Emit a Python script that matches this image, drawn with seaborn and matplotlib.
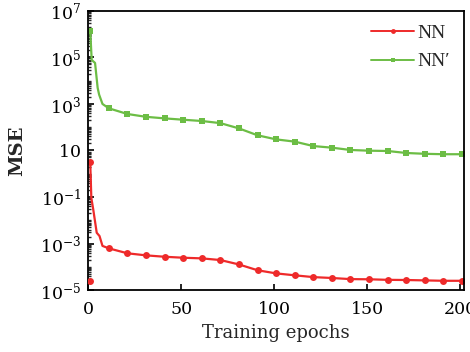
import numpy as np
import pandas as pd
import matplotlib
matplotlib.use("Agg")
import matplotlib.pyplot as plt
import matplotlib.ticker as mticker
import seaborn as sns

# Training curves (MSE per epoch)
epochs_nn = [1, 1.6, 2.6, 4.5, 6, 7.6, 11, 21, 31, 41, 51, 61, 71, 81, 91, 101,
             111, 121, 131, 141, 151, 161, 171, 181, 191, 201]
mse_nn = [3.2, 0.091, 0.030, 2.9e-3, 2.1e-3, 7.9e-4, 6.2e-4, 3.8e-4, 3.1e-4, 2.7e-4,
          2.45e-4, 2.3e-4, 1.95e-4, 1.26e-4, 7.1e-5, 5.2e-5, 4.3e-5, 3.6e-5, 3.3e-5,
          2.95e-5, 2.9e-5, 2.75e-5, 2.7e-5, 2.6e-5, 2.5e-5, 2.5e-5]
nn_start_epoch = [1]
nn_start_mse = [2.45e-5]

epochs_nnp = [1, 1.8, 3.6, 5, 5.8, 7.6, 11, 21, 31, 41, 51, 61, 71, 81, 91, 101,
              111, 121, 131, 141, 151, 161, 171, 181, 191, 201]
mse_nnp = [1.38e6, 7.8e4, 5.8e4, 4.9e3, 2.5e3, 1.0e3, 650, 370, 280, 240, 210, 185,
           150, 89, 45, 30, 24, 15.5, 13.2, 10.5, 9.8, 9.5, 7.8, 7.2, 6.9, 6.9]

series_names = ["NN", "NN\u2032"]
ytick_exps = [-5, -3, -1, 1, 3, 5, 7]
ytick_labels = ["$10^{-5}$", "$10^{-3}$", "$10^{-1}$", "$10$", "$10^{3}$", "$10^{5}$", "$10^{7}$"]
xticks = [0, 50, 100, 150, 200]

RED = "#ee2a2a"
GREEN = "#6cbd45"

sns.set_style("ticks")
plt.rcParams["font.family"] = ["DejaVu Serif"]
plt.rcParams["mathtext.fontset"] = "dejavuserif"

fig = plt.figure(figsize=(4.7, 3.52), dpi=100)
ax = fig.add_axes([0.188, 0.176, 0.799, 0.793])

df_nn = pd.DataFrame({"epoch": epochs_nn, "mse": mse_nn})
df_nnp = pd.DataFrame({"epoch": epochs_nnp, "mse": mse_nnp})

mark_nn = [0] + list(range(6, len(epochs_nn)))
mark_nnp = [0] + list(range(6, len(epochs_nnp)))

sns.lineplot(data=df_nn, x="epoch", y="mse", ax=ax, color=RED, lw=1.6,
             marker="o", markersize=5, markeredgewidth=0, markevery=mark_nn,
             label=series_names[0])
sns.lineplot(data=df_nnp, x="epoch", y="mse", ax=ax, color=GREEN, lw=1.6,
             marker="s", markersize=4.5, markeredgewidth=0, markevery=mark_nnp,
             label=series_names[1])
sns.scatterplot(x=nn_start_epoch, y=nn_start_mse, ax=ax, color=RED, s=25,
                linewidth=0, marker="o", legend=False, zorder=3)

ax.set_yscale("log")
ax.set_ylim(1e-5, 1e7)
ax.set_xlim(0, 202)

ax.yaxis.set_major_locator(mticker.FixedLocator([10.0 ** e for e in ytick_exps]))
ax.yaxis.set_major_formatter(mticker.FixedFormatter(ytick_labels))
minor_pos = []
for d in range(-5, 7):
    minor_pos += [k * 10.0 ** d for k in range(1, 10)]
ax.yaxis.set_minor_locator(mticker.FixedLocator(minor_pos))
ax.yaxis.set_minor_formatter(mticker.NullFormatter())

ax.set_xticks(xticks)
ax.tick_params(axis="both", which="major", direction="in", length=4, width=1.2,
               labelsize=12.5, colors="black")
ax.tick_params(axis="x", which="major", pad=8)
ax.tick_params(axis="y", which="major", pad=5)
ax.tick_params(axis="y", which="minor", direction="in", length=2.5, width=1.0)
ax.tick_params(top=False, right=False)

for s in ax.spines.values():
    s.set_visible(True)
    s.set_linewidth(1.3)
    s.set_color("black")

ax.set_xlabel("Training epochs", fontsize=13, labelpad=4)
ax.set_ylabel("MSE", fontsize=14, fontweight="bold", labelpad=10)

leg = ax.legend(loc="upper right", frameon=False, handlelength=2.2, handletextpad=0.2,
                labelspacing=0.55, borderaxespad=0.3,
                prop={"family": "Liberation Serif", "size": 14})
for h in leg.legend_handles:
    h.set_markersize(3.5)
    h.set_linewidth(1.4)

fig.savefig("out.png", dpi=100)
